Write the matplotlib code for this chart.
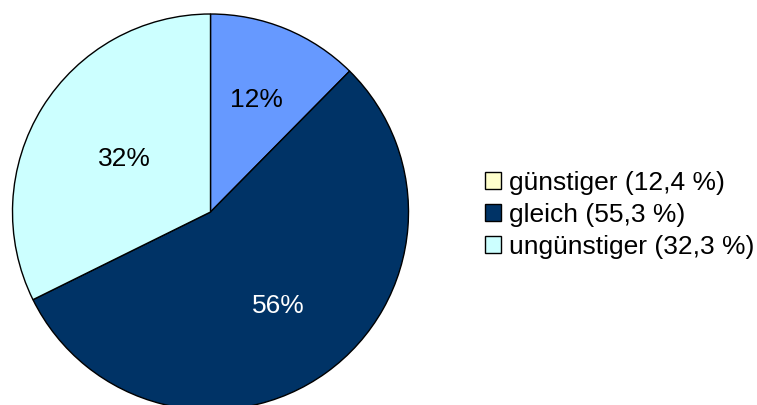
import numpy as np
import matplotlib.pyplot as plt
from matplotlib.patches import Patch

labels = ['günstiger (12,4 %)', 'gleich (55,3 %)', 'ungünstiger (32,3 %)']
values = [12.4, 55.3, 32.3]
pct_labels = ['12%', '56%', '32%']
pie_colors = ['#6699FF', '#003366', '#CCFFFF']
legend_colors = ['#FFFFCC', '#003366', '#CCFFFF']
text_colors = ['black', 'white', 'black']
label_dist = [0.61, 0.585, 0.51]

plt.rcParams['font.family'] = ['Liberation Sans', 'DejaVu Sans']

W, H = 757, 405
fig = plt.figure(figsize=(W / 100, H / 100), dpi=100)

# pie centre (210.5, 212) px from top-left, radius ~198 px
cx, cy, r = 210.5, 212, 198
half = 202
ax = fig.add_axes([(cx - half) / W, (H - cy - half) / H, 2 * half / W, 2 * half / H])

wedges, _ = ax.pie(values, colors=pie_colors, startangle=90,
                   counterclock=False, radius=1,
                   wedgeprops=dict(edgecolor='black', linewidth=1))
for w, txt, c, d in zip(wedges, pct_labels, text_colors, label_dist):
    mid = np.deg2rad((w.theta1 + w.theta2) / 2)
    ax.text(d * np.cos(mid), d * np.sin(mid), txt, color=c, fontsize=19,
            ha='center', va='center')
lim = half / r
ax.set_xlim(-lim, lim)
ax.set_ylim(-lim, lim)
ax.set_aspect('equal')
ax.axis('off')

handles = [Patch(facecolor=c, edgecolor='black', linewidth=1) for c in legend_colors]
fig.legend(handles, labels, loc='center left', bbox_to_anchor=(485 / W, 1 - 215 / H),
           frameon=False, fontsize=19, handlelength=0.6, handleheight=0.6,
           handletextpad=0.3, labelspacing=0.3, borderpad=0, borderaxespad=0)

fig.savefig('out.png', dpi=100)
